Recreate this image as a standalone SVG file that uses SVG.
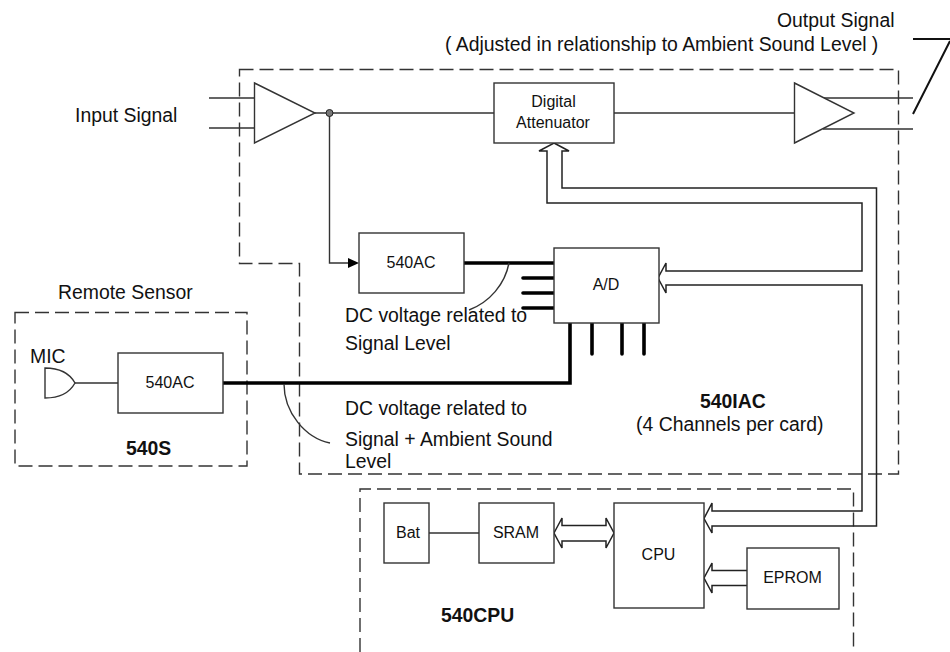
<svg xmlns="http://www.w3.org/2000/svg" width="950" height="652" viewBox="0 0 950 652">
<style>
text{font-family:"Liberation Sans",Arial,sans-serif;fill:#111}
.l{font-size:19.4px}
.s{font-size:16px}
.m{text-anchor:middle}
.b{font-weight:bold}
.box{fill:#fff;stroke:#333;stroke-width:1.4}
.ln{fill:none;stroke:#333;stroke-width:1.4}
.hv{fill:none;stroke:#111;stroke-width:2}
.bus{fill:none;stroke:#222;stroke-width:1.5;stroke-linejoin:miter}
.thick{fill:none;stroke:#000;stroke-width:3.6;stroke-linejoin:miter;stroke-linecap:round}
.dash{fill:none;stroke:#333;stroke-width:1.4;stroke-dasharray:14 6}
</style>
<g id="boundaries">
<path class="dash" d="M239.5,69.5H898.5V474H299.5V263.5H239.5Z"/>
<path class="dash" d="M360,652V489H853.5V652"/>
<path class="dash" d="M15,312.5H247V466H15Z"/>
</g>
<g id="connectors">
<path class="ln" d="M209,98H255M209,128H255M315,113H494M329.5,113V263H349M614,113H794M823,98H913M823,129H913"/>
<path d="M348,258L359,263L348,268Z" fill="#000"/>
<circle cx="329.5" cy="113" r="3.5" fill="#777" stroke="#222" stroke-width="1"/>
<path class="hv" d="M913,39H950M913,114L950,41"/>
<path class="ln" d="M75,383H118M429,533H479"/>
<path class="thick" d="M464,263H555M523,278H555M523,293H555M523,308H555M570,323V383H222M592,323V354M622,323V354M644,323V354"/>
<path class="ln" d="M509,263C505,284 490,302 469,310"/>
<path class="ln" d="M284,384C284,412 305,438 330,443"/>
<path class="bus" d="M554,143L569,151H562V188H876.5V526H712V533L704,518.500L712,503V511H862V285H666V293L658,278L666,263V271H862V203H547V151H539Z"/>
<path class="bus" d="M747,570.500H712V563L704,578L712,593V585.500H747"/>
<path class="bus" d="M554,533L562,518V525.500H606V518L614,533L606,548V541H562V548Z"/>
</g>
<g id="input-amp"><path class="box" d="M254.500,83L315,113L254.500,143Z"/></g>
<g id="output-amp"><path class="box" d="M794.500,83L854,113L794.500,143Z"/></g>
<g id="digital-attenuator"><rect class="box" x="494" y="83" width="120" height="60"/><text class="s m" x="553.500" y="107">Digital</text><text class="s m" x="553" y="128">Attenuator</text></g>
<g id="ac-1"><rect class="box" x="359" y="233" width="105" height="60"/><text class="s m" x="411" y="268">540AC</text></g>
<g id="ad"><rect class="box" x="554" y="248" width="105" height="75"/><text class="s m" x="606" y="290">A/D</text></g>
<g id="mic"><path class="box" d="M45,368C62,368 70,374 75,383C70,392 62,398 45,398Z"/></g>
<g id="ac-2"><rect class="box" x="118" y="353" width="105" height="60"/><text class="s m" x="170" y="388">540AC</text></g>
<g id="bat"><rect class="box" x="384" y="503" width="45" height="60"/><text class="s m" x="408" y="538">Bat</text></g>
<g id="sram"><rect class="box" x="479" y="503" width="75" height="60"/><text class="s m" x="516" y="538">SRAM</text></g>
<g id="cpu"><rect class="box" x="614" y="503" width="90" height="105"/><text class="s m" x="658.500" y="560">CPU</text></g>
<g id="eprom"><rect class="box" x="747" y="548" width="92" height="61"/><text class="s m" x="792.500" y="583">EPROM</text></g>
<g id="labels">
<text class="l" x="777" y="27">Output Signal</text>
<text class="l" x="445" y="51">( Adjusted in relationship to Ambient Sound Level )</text>
<text class="l" x="75" y="122">Input Signal</text>
<text class="l" x="58" y="299">Remote Sensor</text>
<text class="l" x="30" y="363">MIC</text>
<text class="l b" x="126" y="455">540S</text>
<text class="l" x="345" y="322">DC voltage related to</text>
<text class="l" x="345" y="350">Signal Level</text>
<text class="l" x="345" y="415">DC voltage related to</text>
<text class="l" x="345" y="446">Signal + Ambient Sound</text>
<text class="l" x="345" y="468">Level</text>
<text class="l b" x="700" y="408">540IAC</text>
<text class="l" x="636" y="431">(4 Channels per card)</text>
<text class="l b" x="441" y="622">540CPU</text>
</g>
</svg>
